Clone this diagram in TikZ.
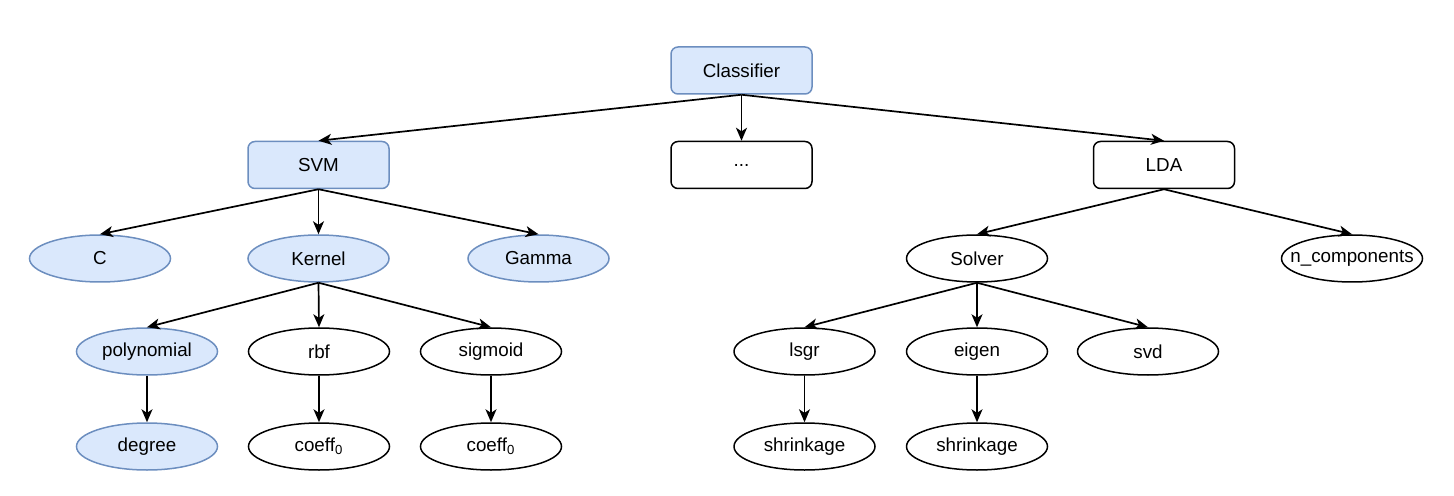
\documentclass[tikz,border=0pt]{standalone}
\usepackage{fontspec}
\setmainfont{Liberation Sans}
\usetikzlibrary{shapes.geometric,arrows.meta}
\definecolor{bfill}{HTML}{DAE8FC}
\definecolor{bdraw}{HTML}{6C8EBF}
\tikzset{
  box/.style={draw=black, line width=0.75pt, rounded corners=3.5pt, minimum width=70.5pt, minimum height=23.5pt, inner sep=0pt, font=\fontsize{9.4}{11}\selectfont},
  ell/.style={ellipse, draw=black, line width=0.75pt, minimum width=70.5pt, minimum height=23.5pt, inner sep=0pt, font=\fontsize{9.4}{11}\selectfont},
  blue/.style={fill=bfill, draw=bdraw},
  conn/.style={line width=0.85pt, -{Stealth[length=6.5pt,width=5.5pt,inset=1.8pt]}}
}
\begin{document}
\begin{tikzpicture}[x=0.5pt,y=-0.5pt]
\useasboundingbox (0,0) rectangle (1454,496);
% row 0
\node[box,blue] (cls) at (741.5,70.5) {Classifier};
% row 1
\node[box,blue] (svm) at (318.5,165) {SVM};
\node[box] (dots) at (741.5,165) {...};
\node[box] (lda) at (1164,165) {LDA};
% row 2
\node[ell,blue] (c) at (100,258.5) {C};
\node[ell,blue] (kernel) at (318.5,258.5) {Kernel};
\node[ell,blue] (gamma) at (538.5,258.5) {Gamma};
\node[ell] (solver) at (977,258.5) {Solver};
\node[ell, inner xsep=-7pt] (ncomp) at (1352,258.5) {n\_components};
% row 3
\node[ell,blue] (poly) at (147,351.5) {polynomial};
\node[ell] (rbf) at (319,351.5) {rbf};
\node[ell] (sig) at (491,351.5) {sigmoid};
\node[ell] (lsgr) at (804.5,351.5) {lsgr};
\node[ell] (eigen) at (977,351.5) {eigen};
\node[ell] (svd) at (1148,351.5) {svd};
% row 4
\node[ell,blue] (deg) at (147,446.5) {degree};
\node[ell] (co1) at (319,446.5) {coeff\textsubscript{0}};
\node[ell] (co2) at (491,446.5) {coeff\textsubscript{0}};
\node[ell] (sh1) at (804.5,446.5) {shrinkage};
\node[ell] (sh2) at (977,446.5) {shrinkage};
% connectors
\draw[conn] (cls.south) -- (svm.north);
\draw[conn] (cls.south) -- (dots.north);
\draw[conn] (cls.south) -- (lda.north);
\draw[conn] (svm.south) -- (c.north);
\draw[conn] (svm.south) -- (kernel.north);
\draw[conn] (svm.south) -- (gamma.north);
\draw[conn] (lda.south) -- (solver.north);
\draw[conn] (lda.south) -- (ncomp.north);
\draw[conn] (kernel.south) -- (poly.north);
\draw[conn] (kernel.south) -- (rbf.north);
\draw[conn] (kernel.south) -- (sig.north);
\draw[conn] (solver.south) -- (lsgr.north);
\draw[conn] (solver.south) -- (eigen.north);
\draw[conn] (solver.south) -- (svd.north);
\draw[conn] (poly.south) -- (deg.north);
\draw[conn] (rbf.south) -- (co1.north);
\draw[conn] (sig.south) -- (co2.north);
\draw[conn] (lsgr.south) -- (sh1.north);
\draw[conn] (eigen.south) -- (sh2.north);
\end{tikzpicture}
\end{document}
